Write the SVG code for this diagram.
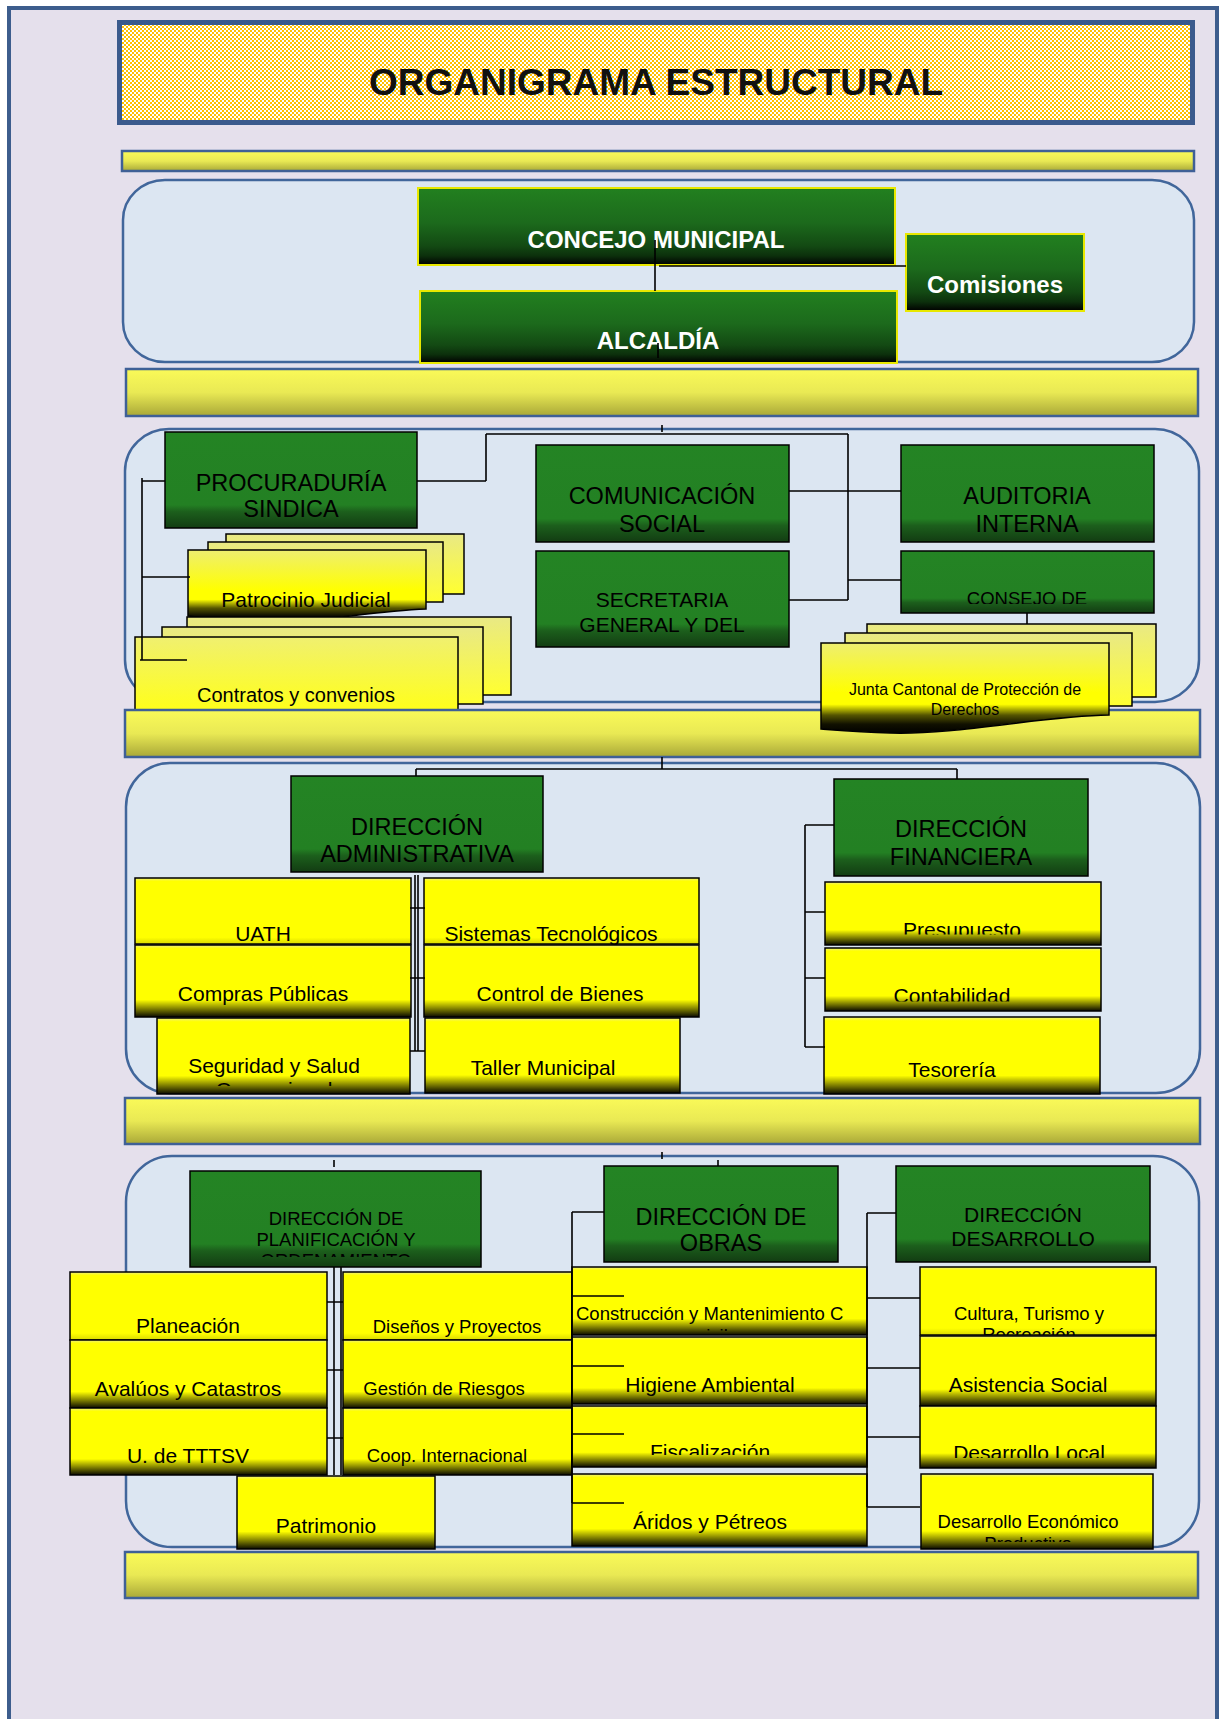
<svg xmlns="http://www.w3.org/2000/svg" width="1224" height="1719" viewBox="0 0 1224 1719">
<defs>
<style>
.t{font-family:"Liberation Sans",Arial,sans-serif;text-anchor:middle;fill:#000}
.tw{fill:#fff;font-weight:bold}
.f37{font-size:37px;font-weight:bold;fill:#111}
.f24{font-size:24px}
.f23{font-size:23.5px}
.f21{font-size:21px}
.f20{font-size:20px}
.f18{font-size:18.5px}
.f16{font-size:16px}
.ln{stroke:#000;stroke-width:1.6;fill:none}
.g1{fill:url(#gG1);stroke:#E8E800;stroke-width:2}
.gb{fill:url(#gG);stroke:#000;stroke-width:1.5}
.yb{fill:url(#gY);stroke:#000;stroke-width:1.5}
.yp{fill:url(#gYp);stroke:#000;stroke-width:1.5}
.db{fill:url(#gDocB);stroke:#000;stroke-width:1.5}
.df{fill:url(#gDocF);stroke:#000;stroke-width:1.5}
.band{fill:url(#gBand);stroke:#3F6096;stroke-width:2.5}
.sec{fill:#DCE6F2;stroke:#41669B;stroke-width:2.5}
</style>
<pattern id="chk" width="4" height="4" patternUnits="userSpaceOnUse">
<rect width="4" height="4" fill="#FFFFFF"/>
<rect width="2" height="2" fill="#FFC000"/>
<rect x="2" y="2" width="2" height="2" fill="#FFC000"/>
</pattern>
<linearGradient id="gG1" x1="0" y1="0" x2="0" y2="1">
<stop offset="0" stop-color="#22801F"/>
<stop offset="0.45" stop-color="#1C6A1C"/>
<stop offset="0.75" stop-color="#134A13"/>
<stop offset="0.88" stop-color="#0C300C"/>
<stop offset="1" stop-color="#000"/>
</linearGradient>
<linearGradient id="gG" x1="0" y1="0" x2="0" y2="1">
<stop offset="0" stop-color="#248424"/>
<stop offset="0.76" stop-color="#238023"/>
<stop offset="0.83" stop-color="#1C5F1C"/>
<stop offset="1" stop-color="#123C12"/>
</linearGradient>
<linearGradient id="gY" x1="0" y1="0" x2="0" y2="1">
<stop offset="0" stop-color="#EFEF80"/>
<stop offset="0.05" stop-color="#FFFF00"/>
<stop offset="0.76" stop-color="#FFFF00"/>
<stop offset="0.86" stop-color="#9A9A00"/>
<stop offset="1" stop-color="#0A0A00"/>
</linearGradient>
<linearGradient id="gYp" x1="0" y1="0" x2="0" y2="1">
<stop offset="0" stop-color="#EFEF80"/>
<stop offset="0.05" stop-color="#FFFF00"/>
<stop offset="0.9" stop-color="#FFFF00"/>
<stop offset="1" stop-color="#DADA00"/>
</linearGradient>
<linearGradient id="gDocB" x1="0" y1="0" x2="0" y2="1">
<stop offset="0" stop-color="#E9E985"/>
<stop offset="1" stop-color="#FFFF30"/>
</linearGradient>
<linearGradient id="gDocC" x1="0" y1="0" x2="0" y2="1">
<stop offset="0" stop-color="#F0F070"/>
<stop offset="1" stop-color="#FFFF18"/>
</linearGradient>
<linearGradient id="gDocF" x1="0" y1="0" x2="0" y2="1">
<stop offset="0" stop-color="#EEEE70"/>
<stop offset="0.55" stop-color="#FFFF00"/>
<stop offset="0.68" stop-color="#FFFF00"/>
<stop offset="0.8" stop-color="#555500"/>
<stop offset="0.9" stop-color="#111100"/>
<stop offset="1" stop-color="#000"/>
</linearGradient>
<linearGradient id="gBand" x1="0" y1="0" x2="0" y2="1">
<stop offset="0" stop-color="#FAFA58"/>
<stop offset="0.5" stop-color="#E9E954"/>
<stop offset="1" stop-color="#A9A838"/>
</linearGradient>
<clipPath id="cConsejo"><rect x="901" y="551" width="253" height="53"/></clipPath>
<clipPath id="cSeg"><rect x="157" y="1018" width="253" height="68"/></clipPath>
<clipPath id="cPres"><rect x="825" y="882" width="276" height="52.5"/></clipPath>
<clipPath id="cCont"><rect x="825" y="948" width="276" height="53.5"/></clipPath>
<clipPath id="cPlan"><rect x="190" y="1171" width="291" height="86"/></clipPath>
<clipPath id="cCons"><rect x="572" y="1267" width="295" height="64"/></clipPath>
<clipPath id="cFisc"><rect x="572" y="1406" width="295" height="49"/></clipPath>
<clipPath id="cCult"><rect x="920" y="1267" width="236" height="68"/></clipPath>
<clipPath id="cDLoc"><rect x="920" y="1406" width="236" height="52"/></clipPath>
<clipPath id="cDEco"><rect x="921" y="1474" width="232" height="68"/></clipPath>
</defs>

<rect x="9" y="8" width="1208" height="1730" fill="#E5E0EC" stroke="#3D5D8D" stroke-width="4"/>

<g id="titulo">
<rect x="119.5" y="22.5" width="1073" height="100" fill="url(#chk)" stroke="#3A5A8C" stroke-width="5"/>
<text class="t f37" x="656" y="95">ORGANIGRAMA ESTRUCTURAL</text>
</g>

<rect class="band" x="122" y="151" width="1072" height="20"/>
<rect class="sec" x="123" y="180" width="1071" height="182" rx="42" ry="40"/>
<rect class="band" x="126" y="369" width="1072" height="47"/>
<rect class="sec" x="125" y="429" width="1074" height="273" rx="44" ry="42"/>
<rect class="sec" x="126" y="763" width="1074" height="330" rx="44" ry="44"/>
<rect class="band" x="125" y="1098" width="1075" height="46"/>
<rect class="sec" x="126" y="1156" width="1073" height="391" rx="46" ry="46"/>
<rect class="band" x="125" y="1552" width="1073" height="46"/>

<g id="concejo-municipal">
<rect class="g1" x="418" y="188" width="477" height="77"/>
<text class="t tw f24" x="656" y="248">CONCEJO MUNICIPAL</text>
</g>
<g id="comisiones">
<rect class="g1" x="906" y="234" width="178" height="77"/>
<text class="t tw f24" x="995" y="293">Comisiones</text>
</g>
<g id="alcaldia">
<rect class="g1" x="420" y="291" width="477" height="72"/>
<text class="t tw f24" x="658" y="349">ALCALDÍA</text>
</g>

<g id="procuraduria-sindica">
<rect class="gb" x="165" y="432" width="252" height="96"/>
<text class="t f23" x="291" y="491">PROCURADURÍA</text>
<text class="t f23" x="291" y="517">SINDICA</text>
</g>
<g id="comunicacion-social">
<rect class="gb" x="536" y="445" width="253" height="97"/>
<text class="t f23" x="662" y="504">COMUNICACIÓN</text>
<text class="t f23" x="662" y="532">SOCIAL</text>
</g>
<g id="secretaria-general">
<rect class="gb" x="536" y="551" width="253" height="96"/>
<text class="t f21" x="662" y="607">SECRETARIA</text>
<text class="t f21" x="662" y="632">GENERAL Y DEL</text>
</g>
<g id="auditoria-interna">
<rect class="gb" x="901" y="445" width="253" height="97"/>
<text class="t f23" x="1027" y="504">AUDITORIA</text>
<text class="t f23" x="1027" y="532">INTERNA</text>
</g>
<g id="consejo-de">
<rect class="gb" x="901" y="551" width="253" height="62"/>
<text class="t f18" x="1027" y="605" clip-path="url(#cConsejo)">CONSEJO DE</text>
</g>
<g id="patrocinio-judicial">
<rect class="db" x="226" y="534" width="238" height="60"/>
<rect class="db" x="208" y="542" width="235" height="60"/>
<path class="df" d="M188,550 H426 V609 C360,612 300,626 240,622 C215,620 196,617 188,616 Z"/>
<text class="t f21" x="306" y="607">Patrocinio Judicial</text>
</g>
<g id="contratos-convenios">
<rect class="db" x="187" y="617" width="324" height="78"/>
<rect class="db" x="162" y="627" width="321" height="77"/>
<rect x="135" y="637" width="323" height="75" fill="url(#gDocC)" stroke="#000" stroke-width="1.5"/>
<text class="t f20" x="296" y="702">Contratos y convenios</text>
</g>

<rect class="band" x="125" y="710" width="1075" height="47"/>

<g id="junta-cantonal">
<rect class="db" x="867" y="624" width="289" height="73"/>
<rect class="db" x="845" y="633" width="287" height="73"/>
<path class="df" d="M821,643 H1109 V715 C1040,716 960,735 890,733 C860,732 835,730 821,729 Z"/>
<text class="t f16" x="965" y="695">Junta Cantonal de Protección de</text>
<text class="t f16" x="965" y="715">Derechos</text>
</g>

<g id="direccion-administrativa">
<rect class="gb" x="291" y="776" width="252" height="96"/>
<text class="t f23" x="417" y="835">DIRECCIÓN</text>
<text class="t f23" x="417" y="862">ADMINISTRATIVA</text>
</g>
<g id="uath">
<rect class="yp" x="135" y="878" width="276" height="66"/>
<text class="t f21" x="263" y="941">UATH</text>
</g>
<g id="compras-publicas">
<rect class="yb" x="135" y="945" width="276" height="72"/>
<text class="t f21" x="263" y="1001">Compras Públicas</text>
</g>
<g id="seguridad-salud">
<rect class="yb" x="157" y="1018" width="253" height="76"/>
<g clip-path="url(#cSeg)">
<text class="t f21" x="274" y="1073">Seguridad y Salud</text>
<text class="t f21" x="274" y="1097">Ocupacional</text>
</g>
</g>
<g id="sistemas-tecnologicos">
<rect class="yp" x="424" y="878" width="275" height="66"/>
<text class="t f21" x="551" y="941">Sistemas Tecnológicos</text>
</g>
<g id="control-bienes">
<rect class="yb" x="424" y="945" width="275" height="72"/>
<text class="t f21" x="560" y="1001">Control de Bienes</text>
</g>
<g id="taller-municipal">
<rect class="yb" x="425" y="1018" width="255" height="75"/>
<text class="t f21" x="543" y="1075">Taller Municipal</text>
</g>
<g id="direccion-financiera">
<rect class="gb" x="834" y="779" width="254" height="97"/>
<text class="t f23" x="961" y="837">DIRECCIÓN</text>
<text class="t f23" x="961" y="865">FINANCIERA</text>
</g>
<g id="presupuesto">
<rect class="yb" x="825" y="882" width="276" height="63"/>
<text class="t f21" x="962" y="937" clip-path="url(#cPres)">Presupuesto</text>
</g>
<g id="contabilidad">
<rect class="yb" x="825" y="948" width="276" height="63"/>
<text class="t f21" x="952" y="1003" clip-path="url(#cCont)">Contabilidad</text>
</g>
<g id="tesoreria">
<rect class="yb" x="824" y="1017" width="276" height="77"/>
<text class="t f21" x="952" y="1077">Tesorería</text>
</g>

<g id="direccion-planificacion">
<rect class="gb" x="190" y="1171" width="291" height="96"/>
<g clip-path="url(#cPlan)">
<text class="t f18" x="336" y="1225">DIRECCIÓN DE</text>
<text class="t f18" x="336" y="1246">PLANIFICACIÓN Y</text>
<text class="t f18" x="336" y="1267">ORDENAMIENTO</text>
</g>
</g>
<g id="planeacion">
<rect class="yp" x="70" y="1272" width="257" height="68"/>
<text class="t f21" x="188" y="1333">Planeación</text>
</g>
<g id="avaluos-catastros">
<rect class="yb" x="70" y="1340" width="257" height="68"/>
<text class="t f21" x="188" y="1396">Avalúos y Catastros</text>
</g>
<g id="tttsv">
<rect class="yb" x="70" y="1408" width="257" height="67"/>
<text class="t f21" x="188" y="1463">U. de TTTSV</text>
</g>
<g id="patrimonio">
<rect class="yb" x="237" y="1476" width="198" height="73"/>
<text class="t f21" x="326" y="1533">Patrimonio</text>
</g>
<g id="disenos-proyectos">
<rect class="yp" x="343" y="1272" width="229" height="68"/>
<text class="t f18" x="457" y="1333">Diseños y Proyectos</text>
</g>
<g id="gestion-riesgos">
<rect class="yb" x="343" y="1340" width="229" height="68"/>
<text class="t f18" x="444" y="1395">Gestión de Riesgos</text>
</g>
<g id="coop-internacional">
<rect class="yb" x="343" y="1408" width="229" height="67"/>
<text class="t f18" x="447" y="1462">Coop. Internacional</text>
</g>

<g id="direccion-obras">
<rect class="gb" x="604" y="1166" width="234" height="96"/>
<text class="t f23" x="721" y="1225">DIRECCIÓN DE</text>
<text class="t f23" x="721" y="1251">OBRAS</text>
</g>
<g id="construccion-mantenimiento">
<rect class="yb" x="572" y="1267" width="295" height="68"/>
<g clip-path="url(#cCons)">
<text class="t f18" x="576" y="1320" style="text-anchor:start">Construcción y Mantenimiento C</text>
<text class="t f18" x="717" y="1342">ivil</text>
</g>
</g>
<g id="higiene-ambiental">
<rect class="yb" x="572" y="1337" width="295" height="67"/>
<text class="t f21" x="710" y="1392">Higiene Ambiental</text>
</g>
<g id="fiscalizacion">
<rect class="yb" x="572" y="1406" width="295" height="61"/>
<text class="t f21" x="710" y="1459" clip-path="url(#cFisc)">Fiscalización</text>
</g>
<g id="aridos-petreos">
<rect class="yb" x="572" y="1474" width="295" height="72"/>
<text class="t f21" x="710" y="1529">Áridos y Pétreos</text>
</g>

<g id="direccion-desarrollo">
<rect class="gb" x="896" y="1166" width="254" height="96"/>
<text class="t f21" x="1023" y="1222">DIRECCIÓN</text>
<text class="t f21" x="1023" y="1246">DESARROLLO</text>
</g>
<g id="cultura-turismo">
<rect class="yp" x="920" y="1267" width="236" height="68"/>
<g clip-path="url(#cCult)">
<text class="t f18" x="1029" y="1320">Cultura, Turismo y</text>
<text class="t f18" x="1029" y="1341">Recreación</text>
</g>
</g>
<g id="asistencia-social">
<rect class="yb" x="920" y="1336" width="236" height="70"/>
<text class="t f21" x="1028" y="1392">Asistencia Social</text>
</g>
<g id="desarrollo-local">
<rect class="yb" x="920" y="1406" width="236" height="62"/>
<text class="t f21" x="1029" y="1460" clip-path="url(#cDLoc)">Desarrollo Local</text>
</g>
<g id="desarrollo-economico">
<rect class="yb" x="921" y="1474" width="232" height="75"/>
<g clip-path="url(#cDEco)">
<text class="t f18" x="1028" y="1528">Desarrollo Económico</text>
<text class="t f18" x="1028" y="1550">Productivo</text>
</g>
</g>

<g id="conectores" class="ln">
<path d="M655,240 V291 M659,266 H906 M658,343 V358"/>
<path d="M662,425 V432 M486,434 H848 M486,434 V481 M417,481 H486 M848,434 V600 M789,491 H901 M789,600 H848 M848,580 H901"/>
<path d="M142,478 V660 M142,481 H165 M142,577 H190 M140,660 H187 M1027,613 V624"/>
<path d="M662,757 V769 M416,769 H957 M416,769 V776 M957,769 V779"/>
<path d="M415,875 V1051 M418,875 V1051 M410,908 H425 M410,978 H425 M410,1051 H425"/>
<path d="M805,825 V1047 M805,825 H834 M805,912 H825 M805,978 H825 M805,1047 H825"/>
<path d="M662,1152 V1159 M334,1160 V1167 M718,1160 V1166"/>
<path d="M334,1267 V1475 M341,1267 V1475 M327,1302 H343 M327,1370 H343 M327,1438 H343"/>
<path d="M572,1212 V1503 M572,1212 H604 M572,1296 H624 M572,1366 H624 M572,1434 H624 M572,1503 H624"/>
<path d="M867,1213 V1507 M867,1213 H896 M867,1298 H920 M867,1368 H920 M867,1437 H920 M867,1507 H920"/>
</g>
</svg>
